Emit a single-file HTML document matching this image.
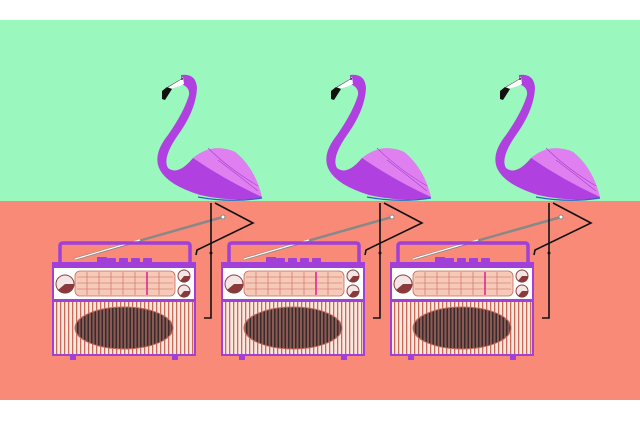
<!DOCTYPE html>
<html><head><meta charset="utf-8"><style>html,body{margin:0;padding:0;background:#fff}svg{display:block}</style></head>
<body>
<svg width="640" height="427" viewBox="0 0 640 427" xmlns="http://www.w3.org/2000/svg">
<defs>
<pattern id="gr" width="4" height="10" patternUnits="userSpaceOnUse">
<rect width="4" height="10" fill="#fde8e0"/><rect x="0" width="1.3" height="10" fill="#c86a5a"/>
</pattern>
<pattern id="sp" width="3.5" height="10" patternUnits="userSpaceOnUse">
<rect width="3.5" height="10" fill="#8a5a55"/><rect x="0" width="1.5" height="10" fill="#3a2a2a"/>
</pattern>
<g id="unit">
<line x1="75" y1="259" x2="223" y2="217" stroke="#888" stroke-width="2.5"/>
<line x1="75" y1="259" x2="140" y2="240" stroke="#fff" stroke-width="1.2"/>
<circle cx="223" cy="217" r="2" fill="#fff" stroke="#888"/>
<path d="M60,263 V246 Q60,243 63,243 H187 Q190,243 190,246 V263" fill="none" stroke="#a040d8" stroke-width="3.5"/>
<rect x="97" y="257" width="10" height="6" fill="#a040d8"/>
<rect x="107" y="258" width="9" height="5" rx="1" fill="#a040d8"/>
<rect x="119" y="258" width="9" height="5" rx="1" fill="#a040d8"/>
<rect x="131" y="258" width="9" height="5" rx="1" fill="#a040d8"/>
<rect x="143" y="258" width="9" height="5" rx="1" fill="#a040d8"/>
<rect x="52" y="262" width="144" height="94" fill="#a040d8"/>
<rect x="54" y="268" width="140" height="31" fill="#fff"/>
<rect x="54" y="302" width="140" height="52" fill="url(#gr)"/>
<ellipse cx="124" cy="328" rx="49" ry="21" fill="url(#sp)" stroke="#c86a5a"/>
<rect x="75" y="271" width="100" height="25" rx="5" fill="#f7c9b8" stroke="#c86a5a" stroke-width="0.8"/>
<g stroke="#c86a5a" stroke-width="0.6">
<line x1="77" y1="277" x2="173" y2="277"/><line x1="77" y1="283" x2="173" y2="283"/><line x1="77" y1="289" x2="173" y2="289"/>
<line x1="87" y1="272" x2="87" y2="295"/><line x1="99" y1="272" x2="99" y2="295"/><line x1="111" y1="272" x2="111" y2="295"/><line x1="123" y1="272" x2="123" y2="295"/><line x1="135" y1="272" x2="135" y2="295"/><line x1="147" y1="272" x2="147" y2="295"/><line x1="159" y1="272" x2="159" y2="295"/>
</g>
<line x1="147" y1="272" x2="147" y2="295" stroke="#e0208a" stroke-width="1.5"/>
<circle cx="65" cy="284" r="9" fill="#f4e6e6" stroke="#8a4040" stroke-width="1"/>
<path d="M65,284 L74,284 A9,9 0 0 1 58,290 Z" fill="#8a3a3a"/>
<circle cx="184" cy="276" r="6" fill="#f4e6e6" stroke="#8a4040"/>
<path d="M184,276 L190,276 A6,6 0 0 1 180,281 Z" fill="#8a3a3a"/>
<circle cx="184" cy="291" r="6" fill="#f4e6e6" stroke="#8a4040"/>
<path d="M184,291 L190,291 A6,6 0 0 1 180,296 Z" fill="#8a3a3a"/>
<rect x="70" y="356" width="6" height="4" fill="#a040d8"/>
<rect x="172" y="356" width="6" height="4" fill="#a040d8"/>
<polyline points="211,203 211,318 204,318" fill="none" stroke="#111" stroke-width="1.6"/>
<polyline points="215,203 253,223 197,250 196,255" fill="none" stroke="#111" stroke-width="1.6"/>
<circle cx="211" cy="253" r="1.5" fill="#111"/>
<!-- flamingo -->
<path d="M181,75 Q196,73 197,88 Q196,110 178,135 Q162,158 168,168 Q178,176 193,158 Q215,143 235,152 Q255,168 262,198 Q230,202 200,195 Q168,185 160,170 Q152,155 168,135 Q184,112 189,95 Q190,87 181,84 Z" fill="#b040e0"/>
<path d="M193,158 Q212,142 235,152 Q255,168 262,197 Q225,180 193,158 Z" fill="#e080f0"/>
<path d="M208,148 Q228,168 258,186 M218,160 Q238,175 258,191" fill="none" stroke="#a040d0" stroke-width="0.6"/>
<path d="M198,197 Q230,203 262,198" fill="none" stroke="#3060c0" stroke-width="1.2"/>
<path d="M183,77 L166,88 Q172,90 184,84 Z" fill="#fff"/>
<path d="M183,78 L168,87" stroke="#444" stroke-width="0.6"/>
<circle cx="182" cy="79" r="0.9" fill="#111"/>
<path d="M167,87 L162,91 L162,99 L165,100 L172,89 Z" fill="#111"/>
</g>
</defs>
<rect x="0" y="20" width="640" height="181" fill="#9af7bd"/>
<rect x="0" y="201" width="640" height="199" fill="#fa8a78"/>
<use href="#unit"/>
<use href="#unit" x="169"/>
<use href="#unit" x="338"/>
</svg>
</body></html>
